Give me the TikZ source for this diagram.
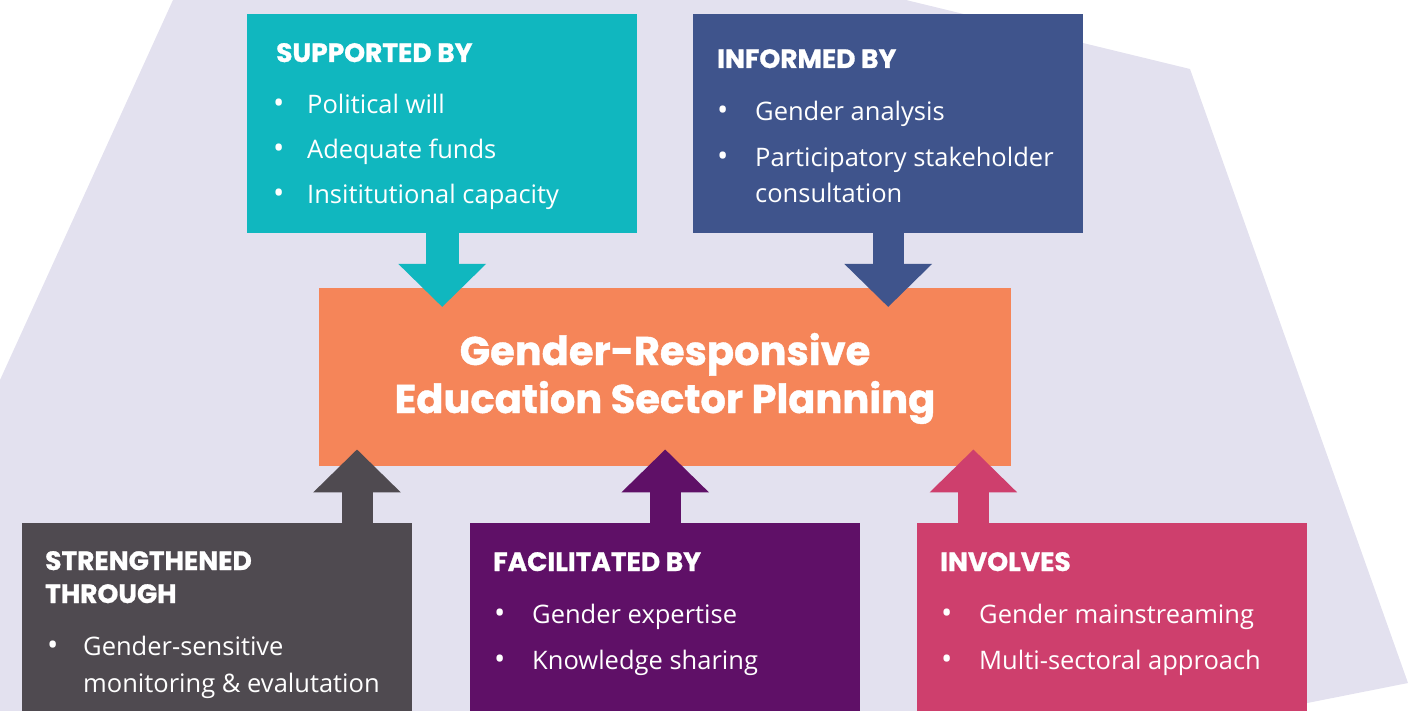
\documentclass[tikz,border=0pt]{standalone}
\usepackage{fontspec}
\newfontfamily\headfont{Poppins}[BoldFeatures={FakeBold=1}]
\newfontfamily\bodyfont{Open Sans}
\usetikzlibrary{arrows.meta,positioning,calc}

\definecolor{lavender}{RGB}{227,225,239}
\definecolor{tealc}{RGB}{16,183,191}
\definecolor{navyc}{RGB}{63,84,140}
\definecolor{corec}{RGB}{245,133,89}
\definecolor{slatec}{RGB}{79,74,80}
\definecolor{plumc}{RGB}{95,16,103}
\definecolor{rosec}{RGB}{206,63,109}

\tikzset{
  panel/.style={rectangle, inner sep=0pt, anchor=north west, minimum width=390pt, minimum height=219pt, fill=#1},
  head/.style={anchor=base west, inner sep=0pt, text=white, font=\headfont\bfseries\fontsize{26.5}{30}\selectfont},
  item/.style={anchor=base west, inner sep=0pt, text=white, font=\bodyfont\fontsize{25.5}{30}\selectfont},
  dot/.style={anchor=base west, inner sep=0pt, text=white, font=\bodyfont\fontsize{30}{30}\selectfont},
  title/.style={anchor=base, inner sep=0pt, text=white, font=\headfont\bfseries\fontsize{40}{48}\selectfont},
  bararrow/.style={draw=#1, line width=33pt, -{Triangle[width=85pt,length=43pt]}}
}

\begin{document}
\begin{tikzpicture}[x=1pt,y=-1pt]
\useasboundingbox (0,0) rectangle (1408,711);
\clip (0,0) rectangle (1408,711);

% background
\fill[lavender] (173,0) -- (906,0) -- (1190,69) -- (1408,683) -- (1267,711) -- (0,711) -- (0,380) -- cycle;

% boxes
\node[panel=tealc] (sup) at (247,14) {};
\node[panel=navyc] (inf) at (693,14) {};
\node[panel=corec, minimum width=692pt, minimum height=178pt] (plan) at (319,288) {};
\node[panel=slatec, minimum height=200pt] (str) at (22,523) {};
\node[panel=plumc, minimum height=200pt] (fac) at (470,523) {};
\node[panel=rosec, minimum height=200pt] (inv) at (917,523) {};

% arrows into the plan
\coordinate (supTip) at ($(sup.south |- plan.north)+(0,19)$);
\coordinate (infTip) at ($(inf.south |- plan.north)+(0,19)$);
\coordinate (strTip) at ($(plan.south west)+(38,-17)$);
\coordinate (facTip) at ($(plan.south)+(0,-17)$);
\coordinate (invTip) at ($(plan.south east)+(-38,-17)$);
\draw[bararrow=tealc] (sup.south) -- (supTip);
\draw[bararrow=navyc, line width=31pt] (inf.south) -- (infTip);
\draw[bararrow=slatec, line width=31pt] (str.north -| strTip) -- (strTip);
\draw[bararrow=plumc, line width=31pt] (fac.north) -- (facTip);
\draw[bararrow=rosec, line width=31pt] (inv.north -| invTip) -- (invTip);

% title
\node[title] (t1) at (665,365) {Gender-Responsive};
\node[title] (t2) at (665,413) {Education Sector Planning};

% supported by
\node[head] (supH) at ($(sup.north west)+(29,48)$) {SUPPORTED BY};
\foreach \t [count=\i] in {Political will, Adequate funds, Insititutional capacity} {
  \node[dot] (supD\i) at ($(sup.north west)+(26,55+45*\i)$) {\textbullet};
  \node[item] (sup\i) at ($(sup.north west)+(60,55+45*\i)$) {\t};
}

% informed by
\node[head] (infH) at ($(inf.north west)+(24,54)$) {INFORMED BY};
\node[dot] (infD1) at ($(inf.north west)+(24,107)$) {\textbullet};
\node[item] (inf1) at ($(inf.north west)+(62,107)$) {Gender analysis};
\node[dot] (infD2) at ($(inf.north west)+(24,153)$) {\textbullet};
\node[item] (inf2) at ($(inf.north west)+(62,153)$) {Participatory stakeholder};
\node[item] (inf3) at ($(inf.north west)+(62,189)$) {consultation};

% strengthened through
\node[head] (strH1) at ($(str.north west)+(23,47)$) {STRENGTHENED};
\node[head] (strH2) at ($(str.north west)+(23,80)$) {THROUGH};
\node[dot] (strD1) at ($(str.north west)+(25,132)$) {\textbullet};
\node[item] (str1) at ($(str.north west)+(61,132)$) {Gender-sensitive};
\node[item] (str2) at ($(str.north west)+(61,169)$) {monitoring \& evalutation};

% facilitated by
\node[head] (facH) at ($(fac.north west)+(23,48)$) {FACILITATED BY};
\foreach \t [count=\i] in {Gender expertise, Knowledge sharing} {
  \node[dot] (facD\i) at ($(fac.north west)+(24,54+46*\i)$) {\textbullet};
  \node[item] (fac\i) at ($(fac.north west)+(62,54+46*\i)$) {\t};
}

% involves
\node[head] (invH) at ($(inv.north west)+(23,48)$) {INVOLVES};
\foreach \t [count=\i] in {Gender mainstreaming, Multi-sectoral approach} {
  \node[dot] (invD\i) at ($(inv.north west)+(24,54+46*\i)$) {\textbullet};
  \node[item] (inv\i) at ($(inv.north west)+(62,54+46*\i)$) {\t};
}
\end{tikzpicture}
\end{document}
